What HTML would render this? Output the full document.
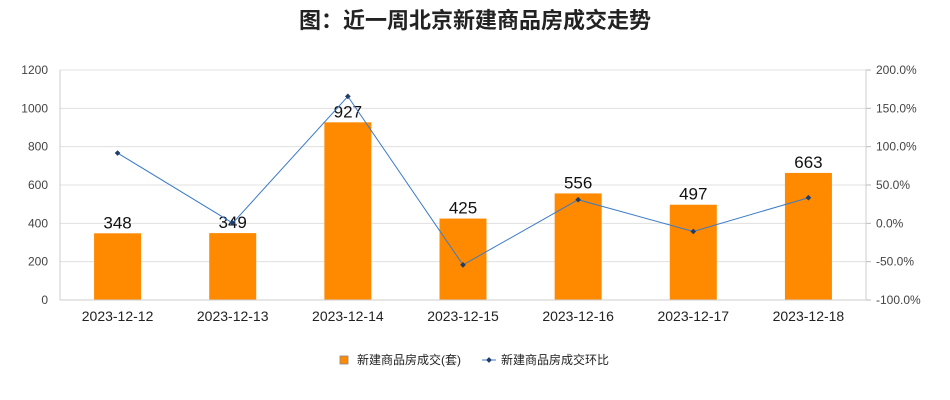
<!DOCTYPE html>
<html><head><meta charset="utf-8">
<style>
body{margin:0;background:#fff;}
svg{display:block;font-family:"Liberation Sans","Noto Sans CJK SC",sans-serif;}
</style></head>
<body>
<svg id="chart" width="950" height="400">
<rect x="0" y="0" width="950" height="400" fill="#fff"/>
<text x="475" y="28" text-anchor="middle" font-size="22" font-weight="bold" fill="#222">图：近一周北京新建商品房成交走势</text>
<g id="grid"></g>
<g id="bars"></g>
<g id="line"></g>
<g id="axes"></g>
<g>
<rect x="340" y="356" width="8" height="8" fill="#ff8a00" stroke="#888" stroke-width="0.8"/>
<text x="357" y="364" font-size="12" fill="#222">新建商品房成交(套)</text>
<line x1="482" y1="360" x2="496" y2="360" stroke="#3a7bc8" stroke-width="1"/>
<rect x="487" y="358" width="4" height="4" fill="#1f3d6b" transform="rotate(45 489 360)"/>
<text x="501" y="364" font-size="12" fill="#222">新建商品房成交环比</text>
</g>
</svg>
<script>
const categories=["2023-12-12","2023-12-13","2023-12-14","2023-12-15","2023-12-16","2023-12-17","2023-12-18"];
const volumes=[348,349,927,425,556,497,663];
const ratios=[91.7,0.3,165.6,-54.2,30.8,-10.6,33.4];
const leftTicks=[0,200,400,600,800,1000,1200];
const rightTicks=[-100,-50,0,50,100,150,200];

const NS="http://www.w3.org/2000/svg";
const X0=60,X1=866,Y0=300,Y1=70;
const bw=(X1-X0)/categories.length;
const xc=i=>X0+bw*(i+0.5);
const yL=v=>Y0-(v-0)/(1200-0)*(Y0-Y1);
const yR=v=>Y0-(v+100)/(300)*(Y0-Y1);
function mk(tag,attrs,parent,text){const e=document.createElementNS(NS,tag);for(const k in attrs)e.setAttribute(k,attrs[k]);if(text!==undefined)e.textContent=text;parent.appendChild(e);return e;}
const grid=document.getElementById('grid'),bars=document.getElementById('bars'),line=document.getElementById('line'),axes=document.getElementById('axes');

leftTicks.forEach(t=>{
  const y=yL(t);
  const g=mk('line',{x1:X0,x2:X1,y1:y,y2:y,stroke:'#e0e0e0','stroke-width':1},grid);
  
  
  const l=mk('text',{x:48,y:y+4,'text-anchor':'end','font-size':12,fill:'#444'},axes,String(t));
  
  
});
rightTicks.forEach(t=>{
  const y=yR(t);
  mk('line',{x1:X1,x2:X1+5,y1:y,y2:y,stroke:'#bbb'},axes);
  const l=mk('text',{x:X1+10,y:y+4,'font-size':12,fill:'#444'},axes,t.toFixed(1)+'%');
  
  
});
mk('line',{x1:X0,x2:X0,y1:Y1,y2:Y0,stroke:'#ccc'},axes);
mk('line',{x1:X1,x2:X1,y1:Y1,y2:Y0,stroke:'#ccc'},axes);
mk('line',{x1:X0,x2:X1,y1:Y0,y2:Y0,stroke:'#ccc'},axes);

categories.forEach((c,i)=>{
  const v=volumes[i],x=xc(i),w=47;
  const r=mk('rect',{x:x-w/2,y:yL(v),width:w,height:Y0-yL(v),fill:'#ff8a00'},bars);
  
  
  const t=mk('text',{x:x,y:yL(v)-5,'text-anchor':'middle','font-size':17,fill:'#111'},bars,String(v));
  
  
  const xl=mk('text',{x:x,y:321,'text-anchor':'middle','font-size':14,fill:'#222'},axes,c);
  
  
});
const pts=ratios.map((v,i)=>xc(i)+','+yR(v)).join(' ');
const pl=mk('polyline',{points:pts,fill:'none',stroke:'#3a7bc8','stroke-width':1},line);


ratios.forEach((v,i)=>{
  const x=xc(i),y=yR(v);
  const p=mk('rect',{x:x-2,y:y-2,width:4,height:4,fill:'#1f3d6b',transform:`rotate(45 ${x} ${y})`},line);
  
  
});
</script>
</body></html>
